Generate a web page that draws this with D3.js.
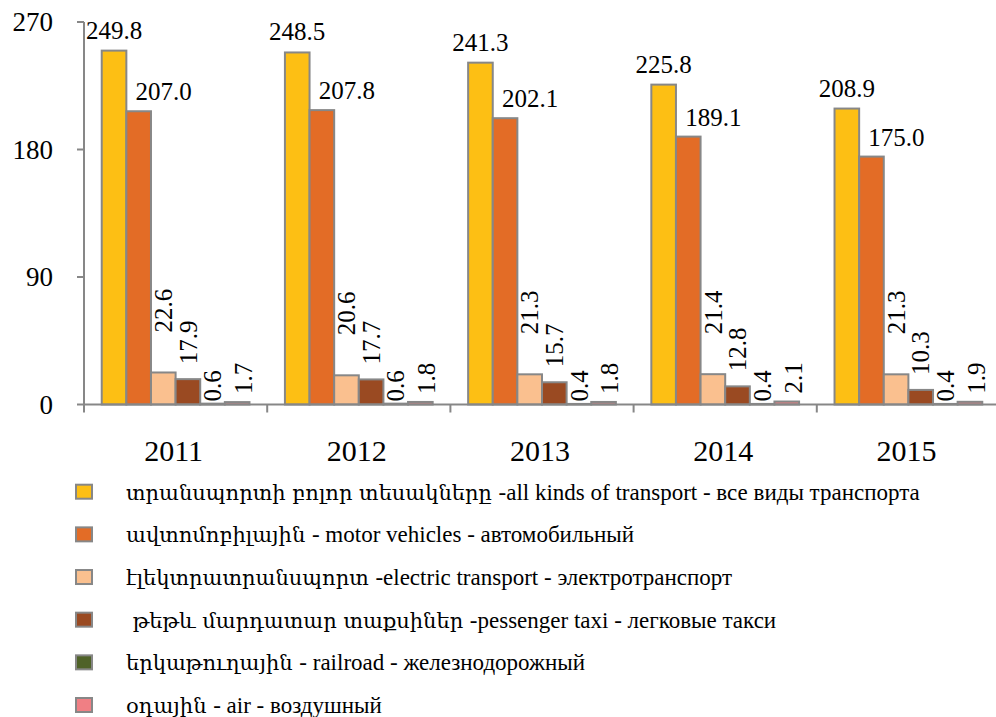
<!DOCTYPE html>
<html lang="en">
<head>
    <meta charset="UTF-8">
    <title>Transport by type, 2011-2015</title>
    <script src="https://cdnjs.cloudflare.com/ajax/libs/d3/7.8.5/d3.min.js"></script>
    <style>
        body {
            margin: 0;
            background: #fff;
        }
        svg text.num {
            font-family: "Liberation Serif";
            fill: #000;
        }
        svg text.leg {
            font-family: "Liberation Serif";
            fill: #000;
        }
        svg tspan.arm {
            font-family: "DejaVu Serif";
        }
    </style>
</head>
<body>
    <svg id="chart" width="996" height="717"></svg>

    <script>
        // Data
        const years = ["2011", "2012", "2013", "2014", "2015"];
        const seriesNames = [
            "տրանսպորտի բոլոր տեսակները -all kinds of transport - все виды транспорта",
            "ավտոմոբիլային - motor vehicles - автомобильный",
            "էլեկտրատրանսպորտ -electric transport - электротранспорт",
            " թեթև մարդատար տաքսիներ -pessenger taxi - легковые такси",
            "երկաթուղային - railroad - железнодорожный",
            "օդային - air - воздушный"
        ];
        const allKinds   = [249.8, 248.5, 241.3, 225.8, 208.9];
        const motor      = [207.0, 207.8, 202.1, 189.1, 175.0];
        const electric   = [22.6, 20.6, 21.3, 21.4, 21.3];
        const taxi       = [17.9, 17.7, 15.7, 12.8, 10.3];
        const railroad   = [0.6, 0.6, 0.4, 0.4, 0.4];
        const air        = [1.7, 1.8, 1.8, 2.1, 1.9];
        const yTicks     = [0, 90, 180, 270];

        const seriesValues = [allKinds, motor, electric, taxi, railroad, air];
        const colors = ["#FDBF14", "#E36C26", "#FAC08F", "#9A4A22", "#4F6228", "#F07F84"];

        const svg = d3.select("#chart");
        const axisColor = "#878787";

        const plotLeft = 84, plotRight = 1000, plotTop = 22, plotBottom = 404.5;

        const x0 = d3.scaleBand().domain(years).range([plotLeft, plotRight]).paddingInner(0).paddingOuter(0);
        const x1 = d3.scaleBand().domain(d3.range(seriesValues.length))
            .range([0, x0.bandwidth()]).paddingInner(0).paddingOuter(0.72);
        const y = d3.scaleLinear().domain([0, 270]).range([plotBottom, plotTop]);

        // Bars
        const rows = [];
        years.forEach((yr, i) => {
            seriesValues.forEach((vals, s) => rows.push({ year: yr, s: s, v: vals[i] }));
        });

        svg.append("g").selectAll("rect")
            .data(rows)
            .enter()
            .append("rect")
            .attr("x", d => x0(d.year) + x1(d.s))
            .attr("y", d => y(d.v))
            .attr("width", x1.bandwidth())
            .attr("height", d => y(0) - y(d.v))
            .attr("fill", d => colors[d.s])
            .attr("stroke", axisColor)
            .attr("stroke-width", 2);

        // Axes
        const ax = svg.append("g");
        ax.append("line")
            .attr("x1", plotLeft).attr("x2", plotLeft)
            .attr("y1", y(270)).attr("y2", plotBottom + 8)
            .attr("stroke", axisColor).attr("stroke-width", 2);
        ax.append("line")
            .attr("x1", plotLeft).attr("x2", plotRight)
            .attr("y1", plotBottom).attr("y2", plotBottom)
            .attr("stroke", axisColor).attr("stroke-width", 2);

        ax.selectAll(".ytick")
            .data(yTicks)
            .enter()
            .append("line")
            .attr("x1", plotLeft - 7).attr("x2", plotLeft)
            .attr("y1", d => y(d)).attr("y2", d => y(d))
            .attr("stroke", axisColor).attr("stroke-width", 2);

        ax.selectAll(".ylab")
            .data(yTicks)
            .enter()
            .append("text")
            .attr("class", "num")
            .attr("x", 53)
            .attr("y", d => y(d) + 9)
            .attr("text-anchor", "end")
            .attr("font-size", "27px")
            .text(d => d);

        ax.selectAll(".xtick")
            .data(years.slice(1))
            .enter()
            .append("line")
            .attr("x1", d => x0(d)).attr("x2", d => x0(d))
            .attr("y1", plotBottom).attr("y2", plotBottom + 8)
            .attr("stroke", axisColor).attr("stroke-width", 2);

        ax.selectAll(".xlab")
            .data(years)
            .enter()
            .append("text")
            .attr("class", "num")
            .attr("x", d => x0(d) + x0.bandwidth() / 2 - 2)
            .attr("y", 461)
            .attr("text-anchor", "middle")
            .attr("font-size", "30px")
            .text(d => d);

        // Value labels: horizontal for the two tall series, rotated for the rest
        const labels = svg.append("g");
        const horiz = rows.filter(d => d.s < 2);
        labels.selectAll(".hl")
            .data(horiz)
            .enter()
            .append("text")
            .attr("class", "num")
            .attr("x", d => x0(d.year) + x1(d.s) + x1.bandwidth() / 2 + (d.s === 1 ? 25 : 0))
            .attr("y", d => y(d.v) - (d.s === 1 ? 11 : 12))
            .attr("text-anchor", "middle")
            .attr("font-size", "25px")
            .text(d => d.v.toFixed(1));

        const gaps = { 2: 40, 3: 15, 4: 3, 5: 8 };
        const vert = rows.filter(d => d.s >= 2);
        labels.selectAll(".vl")
            .data(vert)
            .enter()
            .append("text")
            .attr("class", "num")
            .attr("transform", d => {
                const cx = x0(d.year) + x1(d.s) + x1.bandwidth() / 2 + (d.s === 5 ? 6 : 0);
                const cy = d.s === 4 ? plotBottom - gaps[4] : y(d.v) - gaps[d.s];
                return `translate(${cx},${cy}) rotate(-90)`;
            })
            .attr("dy", "0.35em")
            .attr("text-anchor", "start")
            .attr("font-size", "25px")
            .text(d => d.v.toFixed(1));

        // Legend
        const legend = svg.append("g");
        const legY = d3.scaleLinear().domain([0, 5]).range([491.7, 705]);
        const item = legend.selectAll(".item")
            .data(seriesNames)
            .enter()
            .append("g")
            .attr("transform", (d, i) => `translate(0,${legY(i)})`);

        item.append("rect")
            .attr("x", 76).attr("y", -7)
            .attr("width", 16).attr("height", 14)
            .attr("fill", (d, i) => colors[i])
            .attr("stroke", axisColor)
            .attr("stroke-width", 2);

        // split each name into Armenian / other runs so each gets its own font
        const runs = name => name.match(/[\u0530-\u058F ]+|[^\u0530-\u058F]+/g)
            .map(t => ({ t: t, arm: /[\u0530-\u058F]/.test(t) }));

        item.append("text")
            .attr("class", "leg")
            .attr("x", 126)
            .attr("dy", "0.35em")
            .attr("font-size", "23px")
            .style("white-space", "pre")
            .selectAll("tspan")
            .data(d => runs(d))
            .enter()
            .append("tspan")
            .attr("class", d => d.arm ? "arm" : null)
            .attr("font-size", d => d.arm ? "21px" : "23px")
            .text(d => d.t);
    </script>
</body>
</html>
